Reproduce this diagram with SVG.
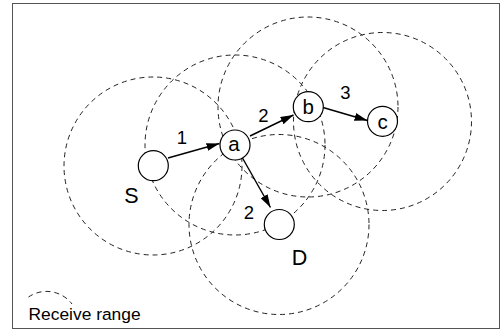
<svg xmlns="http://www.w3.org/2000/svg" width="502" height="333" viewBox="0 0 502 333">
<style>
.range{fill:none;stroke:#222;stroke-width:1;stroke-dasharray:5,4}
.node{fill:#fff;stroke:#000;stroke-width:1.2}
.edge{stroke:#000;stroke-width:1.4;fill:none;marker-end:url(#ah)}
text{font-family:"Liberation Sans",Arial,sans-serif;font-size:18.5px;fill:#000;text-anchor:middle}
.nl{font-size:20.5px}
.big{font-size:21.5px}
.legend{font-size:17.4px;text-anchor:start}
</style>
<defs>
<marker id="ah" markerUnits="userSpaceOnUse" markerWidth="13" markerHeight="8" refX="13" refY="4" orient="auto">
<path d="M0,0 L13,4 L0,8 z" fill="#000"/>
</marker>
</defs>
<rect x="12.5" y="3.5" width="487" height="325" fill="#fff" stroke="#555" stroke-width="1"/>
<g id="ranges">
<circle class="range" cx="153" cy="166" r="89"/>
<circle class="range" cx="235" cy="145" r="90"/>
<circle class="range" cx="308" cy="107" r="90"/>
<circle class="range" cx="382.5" cy="121.5" r="89"/>
<circle class="range" cx="279" cy="224.5" r="90"/>
</g>
<g id="connectors">
<line class="edge" x1="168" y1="158" x2="219.5" y2="143.5"/>
<line class="edge" x1="250" y1="136" x2="293.5" y2="115"/>
<line class="edge" x1="242.5" y1="158" x2="270.5" y2="207.5"/>
<line class="edge" x1="323" y1="107.5" x2="367.5" y2="120.5"/>
<text x="182" y="143.5">1</text>
<text x="263.5" y="121.5">2</text>
<text x="345.5" y="98.5">3</text>
<text x="249" y="218.5">2</text>
</g>
<g id="node-S"><circle class="node" cx="153.3" cy="165.7" r="15"/><text class="big" x="131.3" y="203.3">S</text></g>
<g id="node-a"><circle class="node" cx="235" cy="145" r="15"/><text class="nl" x="234" y="150.5">a</text></g>
<g id="node-b"><circle class="node" cx="308.3" cy="106.7" r="15"/><text class="nl" x="308.3" y="114">b</text></g>
<g id="node-c"><circle class="node" cx="382.5" cy="121.3" r="15"/><text class="nl" x="382.5" y="129">c</text></g>
<g id="node-D"><circle class="node" cx="279.3" cy="224.5" r="15"/><text class="big" x="299.5" y="265">D</text></g>
<g id="legend">
<path class="range" d="M28.5,297 A32,32 0 0 1 72,304"/>
<text class="legend" x="28.5" y="320">Receive range</text>
</g>
</svg>
